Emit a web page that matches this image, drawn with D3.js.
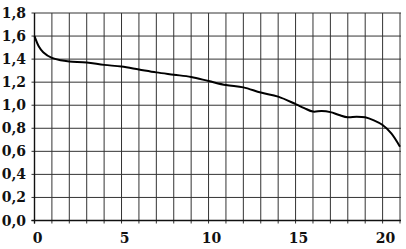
<!DOCTYPE html>
<html>
<head>
<meta charset="utf-8">
<script src="https://cdn.jsdelivr.net/npm/d3@7"></script>
<style>
body { margin: 0; background: #fff; }
svg { display: block; }
</style>
</head>
<body>
<svg width="406" height="249"></svg>
<script>
// curve
var xs = [0, 0.25, 0.5, 1, 1.5, 2, 3, 4, 5, 6, 7, 8, 9, 10, 11, 12, 13, 14, 15, 15.5, 16, 16.5, 17, 17.5, 18, 18.5, 19, 19.5, 20, 20.5, 21];
var ys = [1.6, 1.51, 1.46, 1.41, 1.39, 1.38, 1.37, 1.35, 1.335, 1.31, 1.285, 1.265, 1.245, 1.21, 1.175, 1.155, 1.11, 1.075, 1.01, 0.975, 0.945, 0.95, 0.94, 0.915, 0.895, 0.9, 0.895, 0.868, 0.828, 0.756, 0.64];
var yTickLabels = ["0,0", "0,2", "0,4", "0,6", "0,8", "1,0", "1,2", "1,4", "1,6", "1,8"];
var xTickLabels = ["0", "5", "10", "15", "20"];

var svg = d3.select("svg");
var x = d3.scaleLinear().domain([0, 21]).range([34.5, 400]);
var y = d3.scaleLinear().domain([0, 1.8]).range([220.5, 13]);

var grid = svg.append("g").attr("stroke", "#333").attr("stroke-width", 1);

// vertical grid, one per unit
grid.selectAll("line.v").data(d3.range(0, 22)).enter().append("line")
    .attr("x1", function(d){ return x(d); }).attr("x2", function(d){ return x(d); })
    .attr("y1", y(1.8)).attr("y2", y(0) + 3);

// horizontal grid every 0.2
grid.selectAll("line.h").data(d3.range(0, 10)).enter().append("line")
    .attr("x1", x(0) - 3).attr("x2", x(21) + 1)
    .attr("y1", function(d){ return y(d * 0.2); }).attr("y2", function(d){ return y(d * 0.2); });

// axes a bit heavier
svg.append("line").attr("x1", x(0)).attr("x2", x(0)).attr("y1", y(1.8)).attr("y2", y(0) + 3)
    .attr("stroke", "#111").attr("stroke-width", 1.4);
svg.append("line").attr("x1", x(0) - 3).attr("x2", x(21) + 1).attr("y1", y(0)).attr("y2", y(0))
    .attr("stroke", "#111").attr("stroke-width", 1.4);

var font = "'DejaVu Serif', serif";
svg.selectAll("text.y").data(yTickLabels).enter().append("text")
    .attr("x", 26).attr("y", function(d, i){ return y(i * 0.2); })
    .attr("dy", "0.36em").attr("text-anchor", "end")
    .attr("font-family", font).attr("font-weight", "bold").attr("font-size", 14)
    .attr("fill", "#111").text(function(d){ return d; });

svg.selectAll("text.x").data(xTickLabels).enter().append("text")
    .attr("x", function(d){ return x(+d) + 3; }).attr("y", 243)
    .attr("text-anchor", "middle")
    .attr("font-family", font).attr("font-weight", "bold").attr("font-size", 14)
    .attr("fill", "#111").text(function(d){ return d; });

var line = d3.line()
    .x(function(d){ return x(d[0]); })
    .y(function(d){ return y(d[1]); })
    .curve(d3.curveCatmullRom);

svg.append("path").datum(d3.zip(xs, ys))
    .attr("d", line).attr("fill", "none")
    .attr("stroke", "#000").attr("stroke-width", 2);
</script>
</body>
</html>
